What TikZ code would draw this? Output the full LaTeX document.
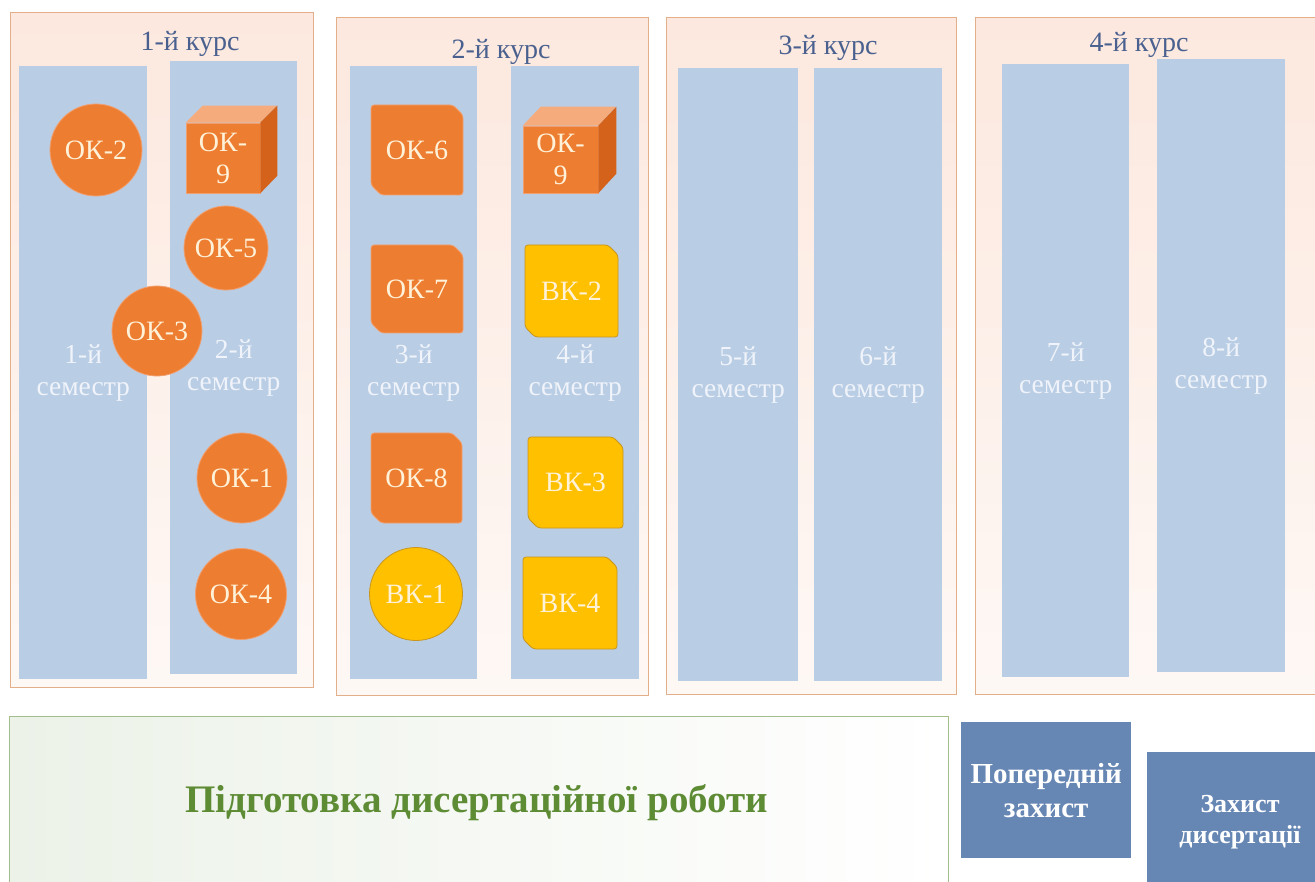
\documentclass[tikz,border=0pt]{standalone}
\usepackage{fontspec}
\setmainfont{Liberation Serif}
\usetikzlibrary{shapes.misc}
\definecolor{okor}{HTML}{ED7D31}
\definecolor{okbd}{HTML}{F0A070}
\definecolor{vkye}{HTML}{FFC000}
\definecolor{vkbd}{HTML}{C8961E}
\definecolor{labtx}{HTML}{FFF2D9}
\definecolor{semfill}{HTML}{B9CDE5}
\definecolor{semtx}{HTML}{F0F4FA}
\definecolor{frbd}{HTML}{E3AE8A}
\definecolor{frtop}{HTML}{FCE8DE}
\definecolor{frbot}{HTML}{FEF8F5}
\definecolor{titletx}{HTML}{4A6190}
\definecolor{grtx}{HTML}{5E8C35}
\definecolor{grbd}{HTML}{A3BE8C}
\definecolor{grfill}{HTML}{ECF2E8}
\definecolor{bluebox}{HTML}{6686B4}
\definecolor{cubetop}{HTML}{F5AB7C}
\definecolor{cubeside}{HTML}{D4621B}
\tikzset{
  coursebox/.style={rectangle, draw=frbd, line width=1.2pt, top color=frtop, bottom color=frbot, anchor=north west, inner sep=0pt},
  sembox/.style={rectangle, fill=semfill, anchor=north west, inner sep=0pt, text=semtx, align=center, font=\fontsize{27.5}{32}\selectfont},
  coursetitle/.style={text=titletx, anchor=base, font=\fontsize{28}{30}\selectfont, inner sep=0pt},
  okcirc/.style={circle, fill=okor, draw=okbd, line width=0.8pt, text=labtx, inner sep=0pt, font=\fontsize{28}{30}\selectfont},
  vkcirc/.style={okcirc, fill=vkye, draw=vkbd},
  oksnip/.style={chamfered rectangle, chamfered rectangle corners={north east, south west}, chamfered rectangle xsep=5pt, chamfered rectangle ysep=5pt, rounded corners=3pt, fill=okor, draw=okbd, line width=0.8pt, text=labtx, inner sep=0pt, font=\fontsize{28}{30}\selectfont},
  vksnip/.style={oksnip, fill=vkye, draw=vkbd},
  cubefront/.style={rectangle, fill=okor, draw=okbd, line width=0.6pt, text=labtx, inner sep=0pt, align=center, font=\fontsize{28}{32}\selectfont},
  bluestep/.style={rectangle, fill=bluebox, text=white, inner sep=0pt, align=center, anchor=north west}
}
\begin{document}
\begin{tikzpicture}[x=1pt,y=-1pt]
\useasboundingbox (0,0) rectangle (1315,882);
\clip (0,0) rectangle (1315,882);
\fill[white] (0,0) rectangle (1315,882);
% course frames
\node[coursebox, minimum width=303pt, minimum height=675pt] (c1) at (10,12) {};
\node[coursebox, minimum width=312pt, minimum height=678pt] (c2) at (336,17) {};
\node[coursebox, minimum width=290pt, minimum height=677pt] (c3) at (666,17) {};
\node[coursebox, minimum width=360pt, minimum height=677pt] (c4) at (975,17) {};
% titles
\node[coursetitle] (t1) at (190,51) {1-й курс};
\node[coursetitle] (t2) at (501,59) {2-й курс};
\node[coursetitle] (t3) at (828,55) {3-й курс};
\node[coursetitle] (t4) at (1139,52) {4-й курс};
% semesters
\node[sembox, minimum width=128pt, minimum height=613pt] (s1) at (19,66) {1-й\\семестр};
\node[sembox, minimum width=127pt, minimum height=613pt] (s2) at (170,61) {2-й\\семестр};
\node[sembox, minimum width=127pt, minimum height=613pt] (s3) at (350,66) {3-й\\семестр};
\node[sembox, minimum width=128pt, minimum height=613pt] (s4) at (511,66) {4-й\\семестр};
\node[sembox, minimum width=120pt, minimum height=613pt] (s5) at (678,68) {5-й\\семестр};
\node[sembox, minimum width=128pt, minimum height=613pt] (s6) at (814,68) {6-й\\семестр};
\node[sembox, minimum width=127pt, minimum height=613pt] (s7) at (1002,64) {7-й\\семестр};
\node[sembox, minimum width=128pt, minimum height=613pt] (s8) at (1157,59) {8-й\\семестр};
% semester 1-2 components
\node[okcirc, minimum size=92pt] (ok2) at (96,150) {ОК-2};
\node[okcirc, minimum size=84pt] (ok5) at (226,248) {ОК-5};
\node[okcirc, minimum size=90pt] (ok1) at (242,478) {ОК-1};
\node[okcirc, minimum size=91pt] (ok4) at (241,594) {ОК-4};
\node[okcirc, minimum size=90pt] (ok3) at (157,331) {ОК-3};
% cube 1
\node[cubefront, minimum width=74pt, minimum height=70pt] (ok9a) at (223,158) {ОК-\\9};
\fill[cubetop] (ok9a.north west) -- ++(17,-17) -- ++(74,0) -- (ok9a.north east) -- cycle;
\fill[cubeside] (ok9a.north east) -- ++(17,-17) -- ++(0,70) -- (ok9a.south east) -- cycle;
% semester 3
\node[oksnip, minimum width=92pt, minimum height=90pt] (ok6) at (417,150) {ОК-6};
\node[oksnip, minimum width=92pt, minimum height=88pt] (ok7) at (417,289) {ОК-7};
\node[oksnip, minimum width=91pt, minimum height=90pt] (ok8) at (416.5,478) {ОК-8};
\node[vkcirc, minimum size=93pt] (vk1) at (416,594) {ВК-1};
% semester 4
\node[cubefront, minimum width=75pt, minimum height=67pt] (ok9b) at (560.5,159.5) {ОК-\\9};
\fill[cubetop] (ok9b.north west) -- ++(18,-19) -- ++(75,0) -- (ok9b.north east) -- cycle;
\fill[cubeside] (ok9b.north east) -- ++(18,-19) -- ++(0,67) -- (ok9b.south east) -- cycle;
\node[vksnip, minimum width=93pt, minimum height=92pt] (vk2) at (571.5,291) {ВК-2};
\node[vksnip, minimum width=95pt, minimum height=91pt] (vk3) at (575.5,482.5) {ВК-3};
\node[vksnip, minimum width=94pt, minimum height=92pt] (vk4) at (570,603) {ВК-4};
% bottom
\node[rectangle, draw=grbd, line width=1.2pt, left color=grfill, right color=white, anchor=north west, minimum width=939pt, minimum height=190pt, inner sep=0pt] (prep) at (9,716) {};
\node[text=grtx, font=\bfseries\fontsize{39}{41}\selectfont, anchor=base] (preptx) at (477,812) {Підготовка дисертаційної роботи};
\node[bluestep, minimum width=170pt, minimum height=136pt, font=\bfseries\fontsize{29}{34}\selectfont] (pre) at (961,722) {Попередній\\захист};
\node[bluestep, minimum width=200pt, minimum height=160pt] (def) at (1147,752) {};
\node[text=white, align=center, font=\bfseries\fontsize{26}{31}\selectfont, anchor=base] (deftx) at (1240,843) {Захист\\дисертації};
\end{tikzpicture}
\end{document}
